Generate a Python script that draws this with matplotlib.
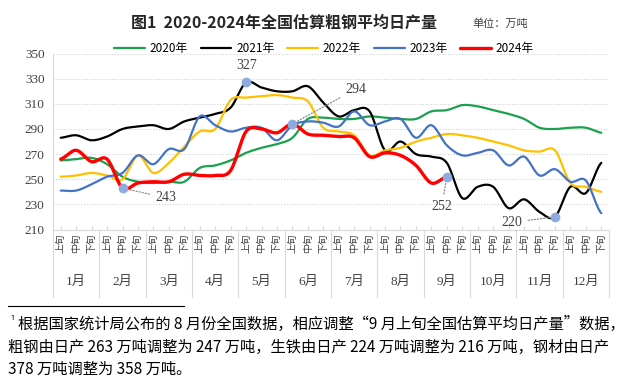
import numpy as np
import matplotlib
matplotlib.use("Agg")
import matplotlib.pyplot as plt
import matplotlib.transforms as mtransforms

plt.rcParams['font.family'] = ['Noto Sans CJK SC', 'DejaVu Sans']

# ------------------------------------------------------- данные
months = [f"{m}月" for m in range(1, 13)]
dekads = ["上旬", "中旬", "下旬"] * 12
years = ["2020年", "2021年", "2022年", "2023年", "2024年"]

v2020 = [265, 266, 267, 262, 252, 248, 247, 248, 248, 259, 261, 265,
         271, 275, 278, 283, 298, 299, 298, 298, 300, 299, 298, 298,
         304, 305, 309, 308, 305, 302, 298, 291, 290, 291, 291, 287]
v2021 = [283, 285, 281, 284, 290, 292, 293, 290, 296, 299, 302, 307,
         327, 323, 320, 320, 324, 311, 300, 305, 304, 273, 280, 270,
         268, 263, 235, 244, 244, 227, 234, 224, 220, 244, 239, 263]
v2022 = [252, 253, 255, 253, 250, 269, 255, 263, 276, 288, 290, 313,
         315, 316, 317, 315, 312, 291, 288, 285, 269, 273, 275, 280,
         283, 286, 285, 283, 280, 277, 273, 272, 273, 247, 244, 240]
v2023 = [241, 241, 246, 252, 255, 269, 262, 274, 274, 300, 293, 288,
         291, 291, 281, 293, 296, 295, 292, 304, 293, 296, 298, 283,
         293, 277, 269, 271, 273, 261, 268, 253, 258, 248, 249, 223]
v2024 = [266, 273, 264, 266, 243, 247, 248, 248, 254, 253, 253, 257,
         288, 290, 287, 294, 286, 285, 284, 283, 268, 271, 269, 261,
         247, 252]

# подписанные точки: (ряд, индекс декады)
marks = [(v2024, 4), (v2021, 12), (v2024, 15), (v2024, 25), (v2021, 32)]

series = [v2020, v2021, v2022, v2023, v2024]
colors = ["#1BA04E", "black", "#FFC000", "#4472C4", "#FF0000"]
widths = [1.6, 1.6, 1.6, 1.6, 2.4]

footnote = ["根据国家统计局公布的 8 月份全国数据，相应调整“9 月上旬全国估算平均日产量”数据，",
            "粗钢由日产 263 万吨调整为 247 万吨，生铁由日产 224 万吨调整为 216 万吨，钢材由日产",
            "378 万吨调整为 358 万吨。"]


def smooth(y, n=16):
    # сглаживание как в Excel (Catmull-Rom)
    y = np.asarray(y, float)
    p = np.concatenate([[y[0]], y, [y[-1]]])
    t = np.linspace(0, 1, n, endpoint=False)
    xs, ys = [], []
    for i in range(len(y) - 1):
        p0, p1, p2, p3 = p[i], p[i + 1], p[i + 2], p[i + 3]
        yy = 0.5 * (2 * p1 + (-p0 + p2) * t + (2 * p0 - 5 * p1 + 4 * p2 - p3) * t ** 2
                    + (-p0 + 3 * p1 - 3 * p2 + p3) * t ** 3)
        xs.append(i + t)
        ys.append(yy)
    xs.append([len(y) - 1])
    ys.append([y[-1]])
    return np.concatenate(xs), np.concatenate(ys)


fig = plt.figure(figsize=(6.38, 3.85), dpi=100)
ax = fig.add_axes([53 / 638, 1 - 229.5 / 385, 556 / 638, 175.9 / 385])

for vals, c, lw, lab in zip(series, colors, widths, years):
    xs, ys = smooth(vals)
    ax.plot(xs, ys, color=c, lw=lw, label=lab, solid_capstyle="round")

ax.set_xlim(-0.5, 35.5)
ax.set_ylim(210, 350)
ax.set_yticks(np.arange(210, 351, 20))
ax.yaxis.grid(True, linestyle=(0, (1, 1.5)), color="#D0D0D0", lw=0.8)
ax.set_axisbelow(True)
for s in ["top", "right"]:
    ax.spines[s].set_visible(False)
for s in ["left", "bottom"]:
    ax.spines[s].set_color("#D9D9D9")
ax.tick_params(axis="y", length=0, pad=6, labelcolor="#404040")
for t in ax.get_yticklabels():
    t.set_family("Liberation Serif")
    t.set_fontsize(9.5)
ax.set_xticks(np.arange(36))
ax.set_xticklabels(dekads, rotation=90, fontsize=7, color="#404040")
ax.tick_params(axis="x", direction="in", length=3, color="#D9D9D9", pad=3)

trans = mtransforms.blended_transform_factory(ax.transData, ax.transAxes)
for k in range(13):
    ax.plot([k * 3 - 0.5] * 2, [0, -0.384], transform=trans, color="#D9D9D9",
            lw=0.8, clip_on=False)
for k, m in enumerate(months):
    ax.text(k * 3 + 1, -0.297, m, transform=trans, ha="center", va="center",
            fontsize=9.5, color="#404040", family=["Liberation Serif", "Noto Sans CJK SC"])

# подписи точек
text_pos = [(6.1, 235.3, "left"), (12.05, 340.4, "center"), (18.4, 321.6, "left"),
            (24.67, 228.7, "center"), (29.9, 215.7, "right")]
for (vals, i), (tx, ty, ha) in zip(marks, text_pos):
    ax.plot(i, vals[i], "o", ms=6, color="#8FAADC", zorder=5)
    arrow = None if i == 12 else dict(arrowstyle="-", linestyle=(0, (1, 1.5)),
                                       color="#8C8C8C", lw=0.9, shrinkA=2, shrinkB=3)
    ax.annotate(str(vals[i]), xy=(i, vals[i]), xytext=(tx, ty), ha=ha, va="center",
                fontsize=10, family="Liberation Serif", color="#404040",
                arrowprops=arrow, annotation_clip=False)

fig.legend(loc="center", bbox_to_anchor=(324 / 638, 1 - 48.3 / 385), ncol=5,
           frameon=False, fontsize=8.5, handlelength=2.6, columnspacing=1.1,
           handletextpad=0.4, borderaxespad=0)

fig.text(284 / 638, 1 - 23 / 385, "图1  2020-2024年全国估算粗钢平均日产量", ha="center",
         va="center", fontsize=11.5, fontweight="bold", color="#262626")
fig.text(472 / 638, 1 - 24 / 385, "单位：万吨", ha="left", va="center",
         fontsize=8, color="#404040")

# сноска
fig.add_artist(plt.Line2D([8 / 638, 184 / 638], [1 - 306 / 385] * 2, color="black", lw=0.8))
fig.text(10 / 638, 1 - 321 / 385, "¹", fontsize=7, va="center")
fig.text(18 / 638, 1 - 324.5 / 385, footnote[0], fontsize=11, va="center")
fig.text(8 / 638, 1 - 347 / 385, footnote[1], fontsize=11, va="center")
fig.text(8 / 638, 1 - 369 / 385, footnote[2], fontsize=11, va="center")

fig.savefig("out.png", dpi=100)
